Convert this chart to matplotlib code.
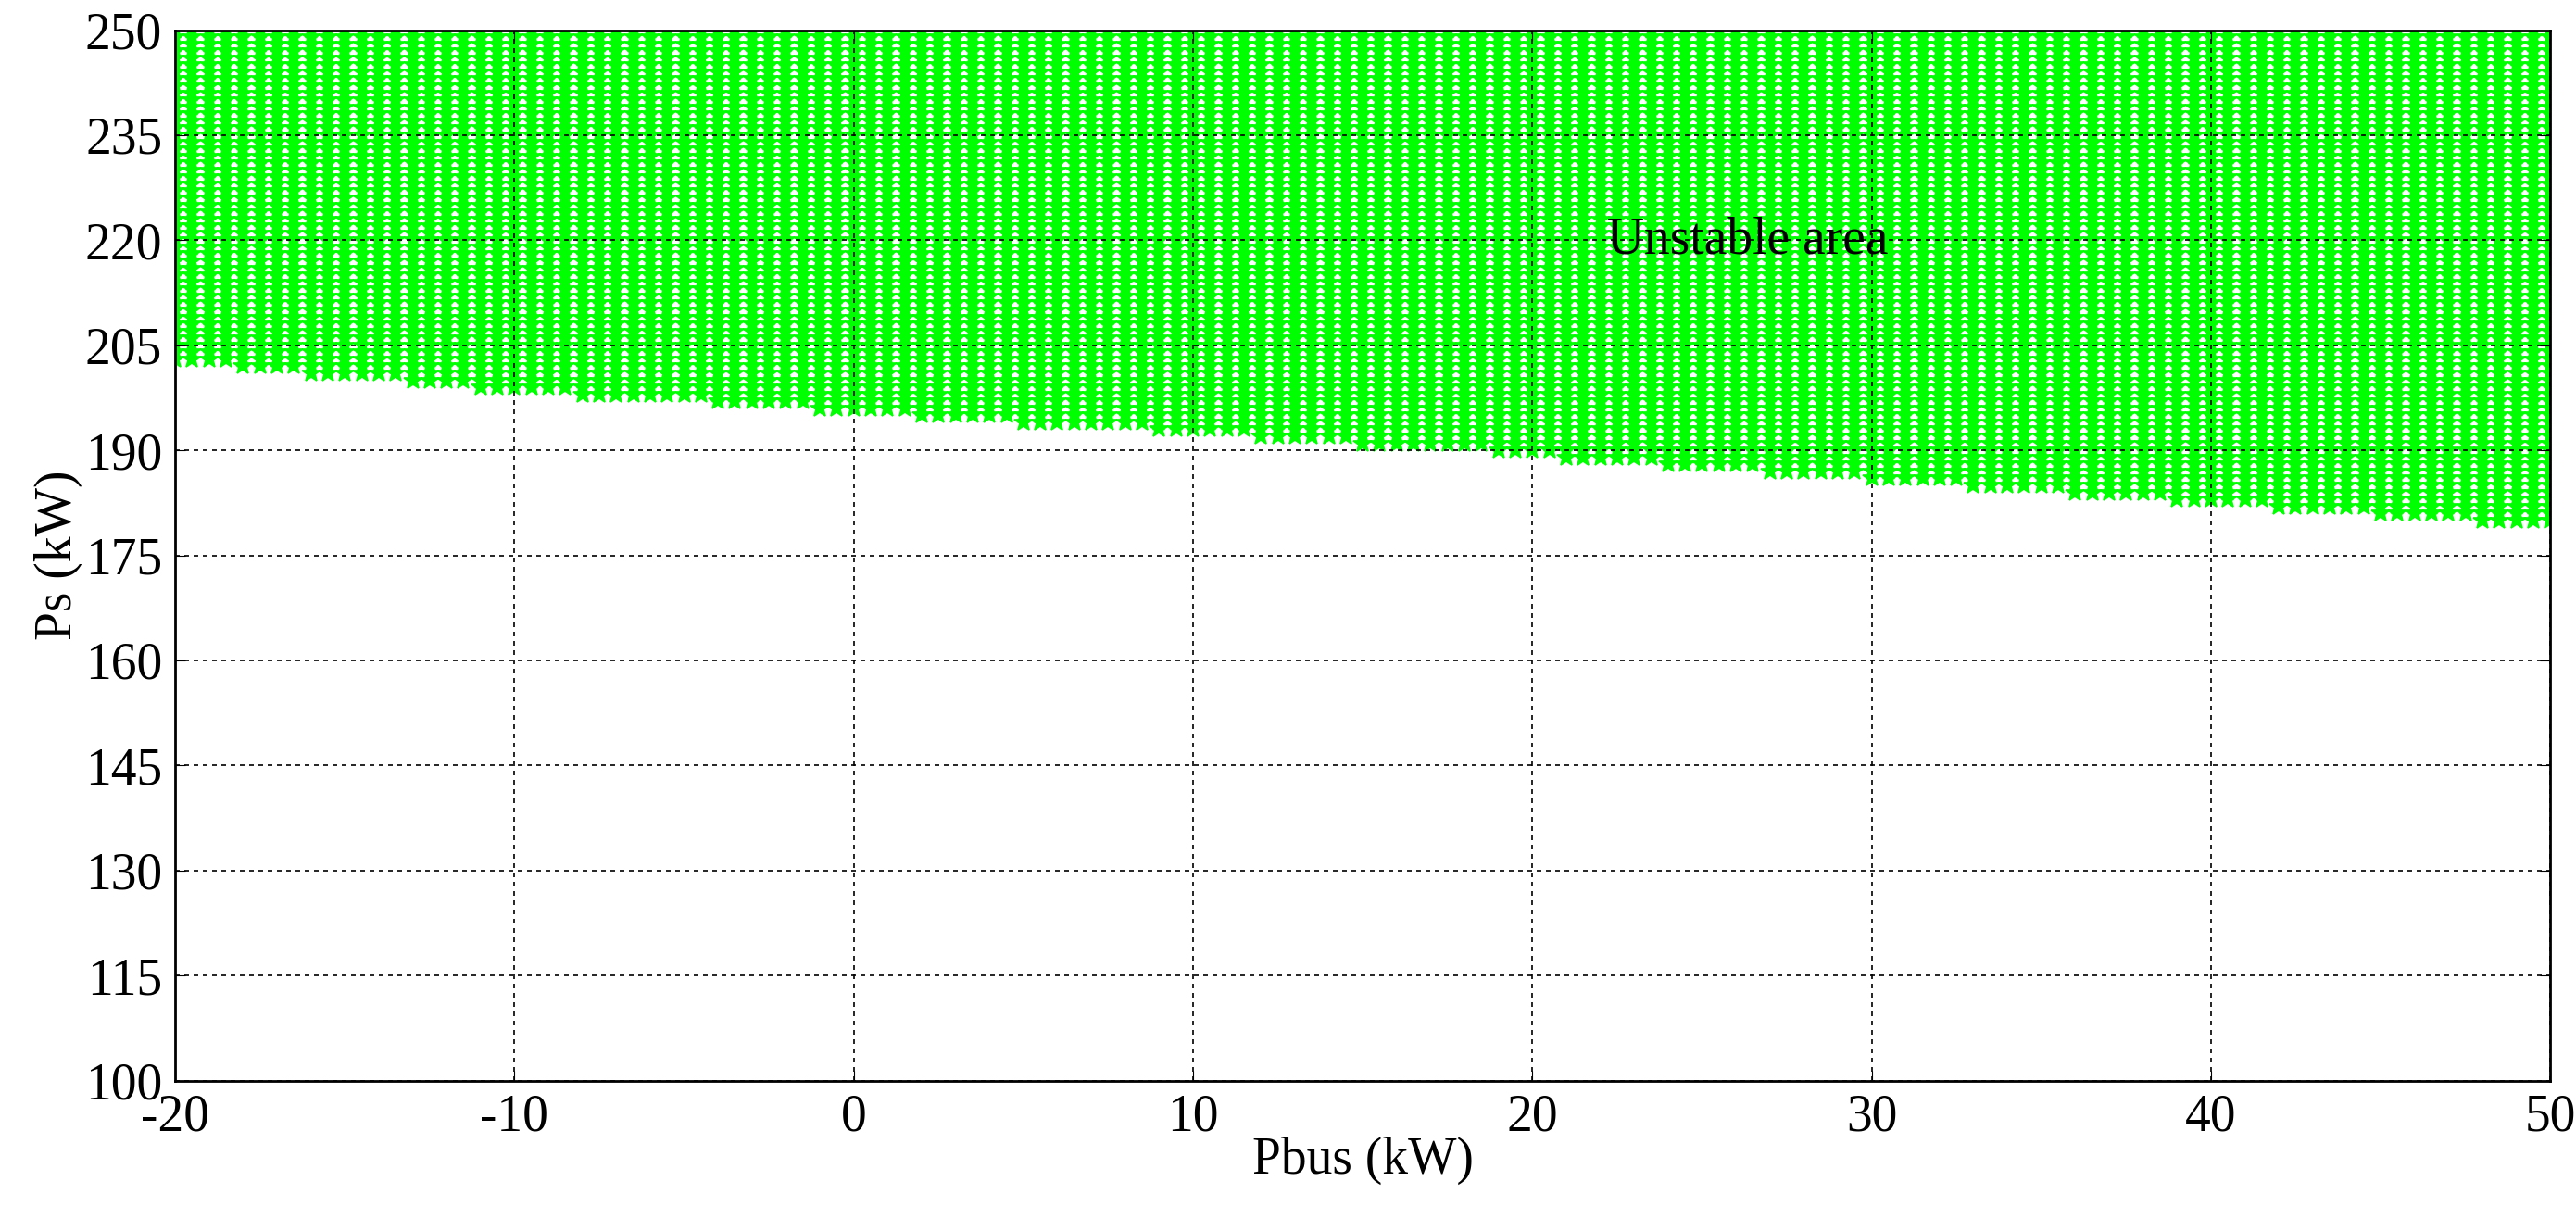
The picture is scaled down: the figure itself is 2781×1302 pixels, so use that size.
import numpy as np
import matplotlib.pyplot as plt

plt.rcParams['font.family'] = ['Liberation Serif', 'DejaVu Serif']
plt.rcParams['axes.unicode_minus'] = False

# stability boundary (Ps threshold per Pbus, 1 kW steps)
pbus = np.arange(-20, 51, 1)
ps_limit = [202.5, 202, 201.6, 201.2, 200.8, 200.4, 200, 199.6, 199.2, 198.8, 198.5,
            198.2, 197.9, 197.6, 197.3, 197, 196.7, 196.4, 196, 195.7, 195.4,
            195.1, 194.8, 194.5, 194.2, 193.9, 193.6, 193.3, 193, 192.7, 192.4,
            192.1, 191.8, 191.5, 191.2, 190.9, 190.6, 190.3, 190, 189.6, 189.2,
            188.9, 188.6, 188.2, 187.9, 187.6, 187.2, 186.9, 186.5, 186.2, 185.8,
            185.5, 185.2, 184.8, 184.5, 184.2, 183.8, 183.5, 183.1, 182.8, 182.4,
            182.1, 181.8, 181.4, 181.1, 180.8, 180.4, 180.1, 179.7, 179.4, 179]
ps_max = 250
ps_step = 1
scan_offsets = [0.0, 0.5]   # the scan used half-kW columns in Pbus
xticks = [-20, -10, 0, 10, 20, 30, 40, 50]
yticks = [100, 115, 130, 145, 160, 175, 190, 205, 220, 235, 250]

fig = plt.figure(figsize=(27.81, 13.02), dpi=100)
ax = fig.add_axes([0.068, 0.104, 0.922, 0.871])

xs, ys = [], []
for p, lim in zip(pbus, ps_limit):
    for off in scan_offsets:
        if p + off > 50:
            continue
        col = np.arange(ps_max, lim, -ps_step)
        xs.extend([p + off] * len(col))
        ys.extend(col)
ax.plot(xs, ys, '*', color='#00ff00', markersize=15, markeredgewidth=1.2, zorder=1)

ax.set_xlim(-20, 50)
ax.set_ylim(100, 250)
ax.set_xticks(xticks)
ax.set_yticks(yticks)
ax.grid(True, color='black', linestyle=(0, (3, 3)), linewidth=1.2, zorder=2)
ax.set_axisbelow(False)
ax.tick_params(direction='in', labelsize=40, length=8, top=True, right=True, pad=10)
for s in ax.spines.values():
    s.set_linewidth(2)
ax.set_xlabel('Pbus (kW)', fontsize=40, labelpad=-4)
ax.set_ylabel('Ps (kW)', fontsize=40, labelpad=2)
ax.text(22.2, 220, 'Unstable area', fontsize=40, va='center', ha='left')

fig.savefig('out.png', dpi=100)
